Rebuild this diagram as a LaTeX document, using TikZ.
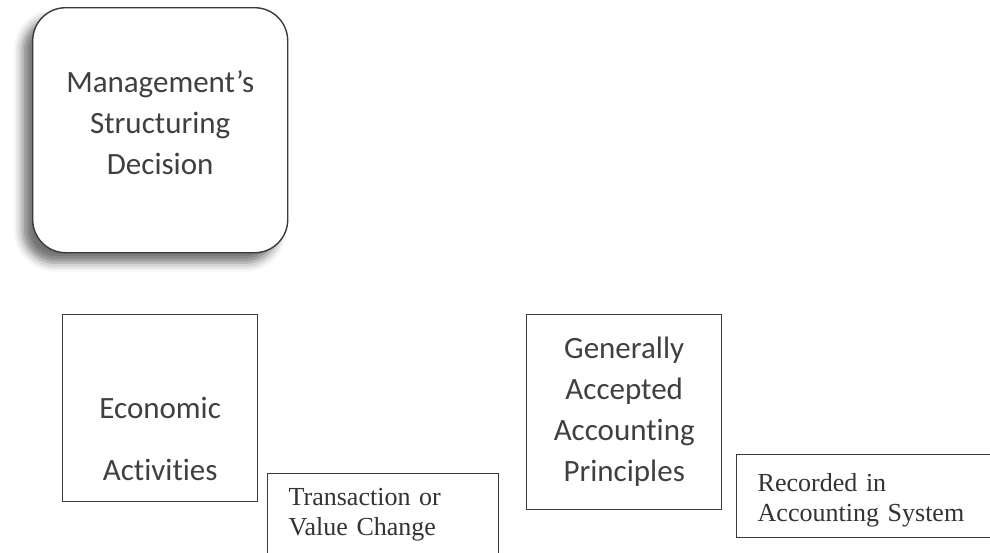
\documentclass[tikz,border=0pt]{standalone}
\usepackage{fontspec}
\setmainfont{Carlito}[Ligatures = {TeX, NoCommon}]
\newfontfamily\serifrm{Liberation Serif}
\usetikzlibrary{shadows.blur}
\definecolor{boxline}{HTML}{3A3A3A}
\definecolor{boxtext}{HTML}{404040}

\begin{document}
\begin{tikzpicture} [x = 1pt, y = -1pt,
        box/.style = {draw = boxline, line width = 1.4pt, fill = white, inner sep = 0pt, anchor = north west},
        big/.style = {text = boxtext, align = center, font = \fontsize{31}{41}\selectfont},
        small/.style = {text = black!80, align = left, font = \serifrm\fontsize{26}{29.5}\selectfont,
            inner xsep = 21pt, inner ysep = 15pt}]

        \useasboundingbox (0,0) rectangle (990,552);

        \node (mgmt) [box, big, rounded corners = 33pt, minimum width = 255pt, minimum height = 245pt,
            text depth = 15pt, blur shadow = {shadow xshift = -10pt, shadow yshift = -10pt,
            shadow blur radius = 9pt, shadow opacity = 55}] at (32,7)
            {Management’s\\Structuring\\Decision};

        \node (econ) [box, big, minimum width = 195pt, minimum height = 187pt, text height = 145pt]
            at (62,314) {Economic\\[21pt]Activities};
        \node (trans) [box, small, text width = 189pt, text depth = 60pt] at (267,473)
            {Transaction or\\Value Change};

        \node (gaap) [box, big, minimum width = 195pt, minimum height = 195pt] at (526,314)
            {Generally\\Accepted\\Accounting\\Principles};
        \node (rec) [box, small, text width = 260pt, text height = 22pt, text depth = 31pt] at (736,454)
            {Recorded in\\Accounting System};

    \end{tikzpicture}
\end{document}
